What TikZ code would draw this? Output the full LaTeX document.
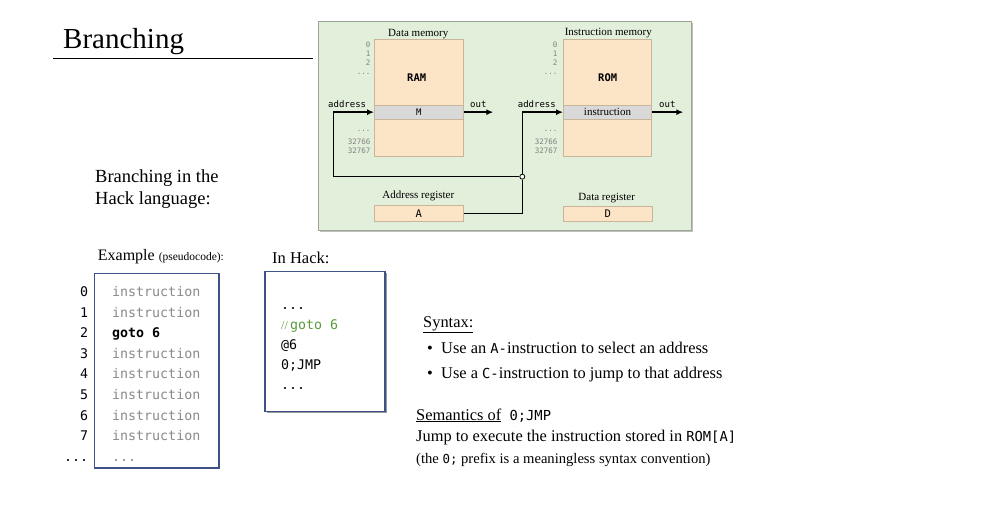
\documentclass[tikz,border=0pt]{standalone}
\usepackage{fontspec}
\setmainfont{Liberation Serif}
\newfontfamily\monof{DejaVu Sans Mono}
\usetikzlibrary{arrows.meta,shadows}
\definecolor{panelgreen}{HTML}{E2EFDA}
\definecolor{panelborder}{HTML}{9AA595}
\definecolor{peach}{HTML}{FCE4C6}
\definecolor{peachborder}{HTML}{C9B59A}
\definecolor{bandgray}{HTML}{D9D9D9}
\definecolor{codeborder}{HTML}{3F5288}
\definecolor{instgray}{HTML}{8A8A8A}
\definecolor{cmtgreen}{HTML}{5A9A3C}
\definecolor{addrgray}{HTML}{808080}
\newcommand{\fsz}[1]{\fontsize{#1}{#1}\selectfont}
\begin{document}
\begin{tikzpicture}[x=1pt,y=-1pt,
  txt/.style={inner sep=0pt, anchor=base west},
  txtr/.style={inner sep=0pt, anchor=base east},
  txtc/.style={inner sep=0pt, anchor=base},
  membox/.style={draw=peachborder, fill=peach, line width=0.5pt, inner sep=0pt},
  bandbox/.style={draw=peachborder, fill=bandgray, line width=0.5pt, inner sep=0pt},
  addrnum/.style={txtr, font={\monof\fsz{7.5}}, text=addrgray},
  portlbl/.style={txt, font={\monof\fsz{9}}},
  memtitle/.style={txtc, font={\fsz{11}}},
  wire/.style={line width=1.4pt},
  arr/.style={wire, -{Latex[length=7pt,width=6pt]}},
  codebox/.style={draw=codeborder, line width=1.1pt, fill=white, inner sep=0pt,
    drop shadow={shadow xshift=1.5pt, shadow yshift=-1.5pt, opacity=0.4, fill=black}},
  lnum/.style={txtr, font={\monof\fsz{13.3}}},
  ins/.style={txt, font={\monof\fsz{13.3}}, text=instgray},
  hcode/.style={txt, font={\monof\fsz{13.3}}},
  body/.style={txt, font={\fsz{16.4}}}
]
\useasboundingbox (0,0) rectangle (983,517);

% title
\node[txt, font={\fsz{29}}] (title) at (63,48.3) {Branching};
\draw[line width=1.3pt] (53,58.5) -- (313,58.5);

% panel
\path[draw=panelborder, fill=panelgreen, line width=0.8pt,
  drop shadow={shadow xshift=1.2pt, shadow yshift=-1.2pt, opacity=0.25, fill=black}]
  (318.3,21.5) rectangle (691.7,230.7);

% data memory
\node[memtitle] (dmt) at (418.3,36.2) {Data memory};
\node[membox, minimum width=89pt, minimum height=117.7pt] (ram) at (418.8,97.85) {};
\node[bandbox, minimum width=89pt, minimum height=14.3pt, font={\monof\fsz{9}}] (M) at (418.8,112.15) {M};
\node[inner sep=0pt, font={\monof\bfseries\fsz{10.5}}] (ramlbl) at (416.7,77.3) {RAM};
\node[addrnum] (r0) at (370.7,47) {0};
\node[addrnum] (r1) at (370.7,56) {1};
\node[addrnum] (r2) at (370.7,65) {2};
\node[addrnum] (r3) at (370.7,74) {...};
\node[addrnum] (r4) at (370.7,131.5) {...};
\node[addrnum] (r5) at (370.7,144.5) {32766};
\node[addrnum] (r6) at (370.7,153) {32767};
\node[portlbl] (addr1) at (328,107) {address};
\node[portlbl] (out1) at (470,107) {out};

% instruction memory
\node[memtitle] (imt) at (608.3,35.5) {Instruction memory};
\node[membox, minimum width=88.4pt, minimum height=117.7pt] (rom) at (607.5,97.85) {};
\node[bandbox, minimum width=88.4pt, minimum height=14.3pt, font={\fsz{11}}] (I) at (607.5,112.15) {instruction};
\node[inner sep=0pt, font={\monof\bfseries\fsz{10.5}}] (romlbl) at (607.7,77.3) {ROM};
\node[addrnum] (s0) at (557.7,47) {0};
\node[addrnum] (s1) at (557.7,56) {1};
\node[addrnum] (s2) at (557.7,65) {2};
\node[addrnum] (s3) at (557.7,74) {...};
\node[addrnum] (s4) at (557.7,131.5) {...};
\node[addrnum] (s5) at (557.7,144.5) {32766};
\node[addrnum] (s6) at (557.7,153) {32767};
\node[portlbl] (addr2) at (517.7,107) {address};
\node[portlbl] (out2) at (659,107) {out};

% registers
\node[memtitle] (art) at (418.3,198.5) {Address register};
\node[membox, minimum width=89pt, minimum height=16.7pt, font={\monof\fsz{10.5}}] (A) at (418.8,213.35) {A};
\node[memtitle] (drt) at (606.7,200) {Data register};
\node[membox, minimum width=89pt, minimum height=15.7pt, font={\monof\fsz{10.5}}] (D) at (607.8,213.85) {D};

% wires
\node[circle, draw, fill=white, inner sep=0pt, minimum size=5pt, line width=0.8pt] (junc) at (522.3,176.7) {};
\coordinate (lc) at (333.3,176.7);
\coordinate (o1) at (493.3,112.15);
\coordinate (o2) at (683.3,112.15);
\draw[arr] (junc) -- (lc) |- (M.west);
\draw[arr] (junc) |- (I.west);
\draw[wire] (A.east) -| (junc);
\draw[arr] (M.east) -- (o1);
\draw[arr] (I.east) -- (o2);

% left text
\node[txt, font={\fsz{18.5}}] (bh1) at (95,182.2) {Branching in the};
\node[txt, font={\fsz{18.5}}] (bh2) at (95,204.8) {Hack language:};

% example
\node[txt, font={\fsz{16}}] (exl) at (97.7,260) {Example {\fsz{11.5}(pseudocode):}};
\node[codebox, minimum width=124.7pt, minimum height=194.7pt] (code1) at (156.6,370.6) {};
\node[lnum] (n0) at (88.3,296.4) {0};
\node[lnum] (n1) at (88.3,317) {1};
\node[lnum] (n2) at (88.3,337.6) {2};
\node[lnum] (n3) at (88.3,358.2) {3};
\node[lnum] (n4) at (88.3,378.8) {4};
\node[lnum] (n5) at (88.3,399.4) {5};
\node[lnum] (n6) at (88.3,420) {6};
\node[lnum] (n7) at (88.3,440.6) {7};
\node[lnum] (n8) at (88.3,461.2) {...};
\node[ins] (i0) at (112,296.4) {instruction};
\node[ins] (i1) at (112,317) {instruction};
\node[ins, text=black, font={\monof\bfseries\fsz{13.3}}] (i2) at (112,337.6) {goto 6};
\node[ins] (i3) at (112,358.2) {instruction};
\node[ins] (i4) at (112,378.8) {instruction};
\node[ins] (i5) at (112,399.4) {instruction};
\node[ins] (i6) at (112,420) {instruction};
\node[ins] (i7) at (112,440.6) {instruction};
\node[ins] (i8) at (112,461.2) {...};

% in hack
\node[txt, font={\fsz{16.5}}] (ihl) at (272,263) {In Hack:};
\node[codebox, minimum width=120pt, minimum height=140pt] (code2) at (325,341.7) {};
\node[hcode] (h0) at (281,309) {...};
\node[hcode, text=cmtgreen] (h1) at (281,329) {{\rmfamily\fsz{12}//}\,goto 6};
\node[hcode] (h2) at (281,349) {@6};
\node[hcode] (h3) at (281,369) {0;JMP};
\node[hcode] (h4) at (281,389) {...};

% syntax
\node[body] (syn) at (423,327) {\underline{Syntax:}};
\node[body] (b1) at (427,353) {•};
\node[body] (t1) at (441,353) {Use an {\monof\fsz{13.8}A-}instruction to select an address};
\node[body] (b2) at (427,378) {•};
\node[body] (t2) at (441,378) {Use a {\monof\fsz{13.8}C-}instruction to jump to that address};
\node[body] (sem) at (416,420) {\underline{Semantics of}\ \ {\monof\fsz{13.8}0;JMP}};
\node[body] (jmp) at (416,441) {Jump to execute the instruction stored in {\monof\fsz{13.8}ROM[A]}};
\node[txt, font={\fsz{14.6}}] (pfx) at (416,463) {(the {\monof\fsz{12.4}0;} prefix is a meaningless syntax convention)};
\end{tikzpicture}
\end{document}
